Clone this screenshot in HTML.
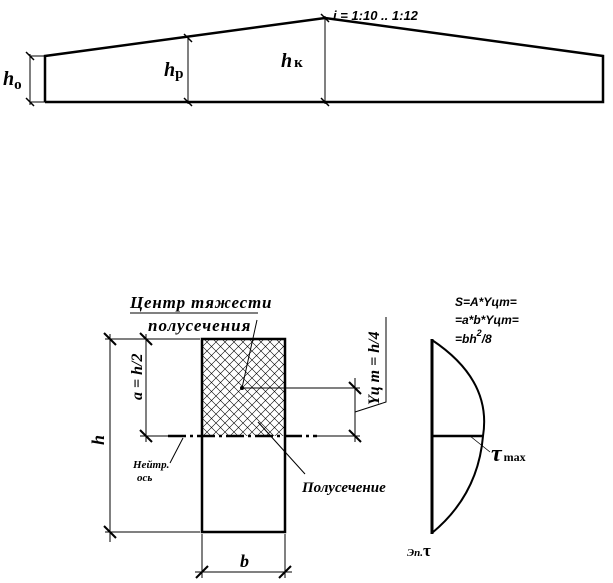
<!DOCTYPE html>
<html><head><meta charset="utf-8"><style>
html,body{margin:0;padding:0;background:#fff;width:613px;height:583px;overflow:hidden}
text{font-family:"Liberation Serif","DejaVu Serif",serif;font-style:italic;font-weight:bold;fill:#000}
</style></head><body>
<svg width="613" height="583" viewBox="0 0 613 583" xmlns="http://www.w3.org/2000/svg">
<defs>
<pattern id="hx" width="9" height="9" patternUnits="userSpaceOnUse">
<path d="M0 0L9 9M9 0L0 9" stroke="#000" stroke-width="0.6"/>
</pattern>
</defs>
<polyline points="45,102 45,56 325,18 603,56 603,102 45,102" fill="none" stroke="#000" stroke-width="2.5"/>
<g stroke="#000" stroke-width="1">
<line x1="30" y1="56" x2="45" y2="56"/><line x1="30" y1="102" x2="45" y2="102"/>
<line x1="30" y1="54" x2="30" y2="105"/>
<line x1="188" y1="38" x2="188" y2="104"/>
<line x1="325" y1="16" x2="325" y2="104"/>
</g>
<g stroke="#000" stroke-width="1.5">
<line x1="26" y1="52" x2="34" y2="60"/><line x1="26" y1="98" x2="34" y2="106"/>
<line x1="184" y1="34" x2="192" y2="42"/><line x1="184" y1="98" x2="192" y2="106"/>
<line x1="321" y1="14" x2="329" y2="22"/><line x1="321" y1="98" x2="329" y2="106"/>
</g>
<text x="3" y="85" font-size="20">h<tspan font-size="15" font-style="normal" dy="4">о</tspan></text>
<text x="164" y="76" font-size="20">h<tspan font-size="15" font-style="normal" dy="2">р</tspan></text>
<text x="281" y="67" font-size="20">h<tspan font-size="15" font-style="normal" dx="2" dy="0">к</tspan></text>
<text x="333" y="20" font-size="13" style="font-family:'Liberation Sans',sans-serif">i = 1:10 .. 1:12</text>

<rect x="202" y="339" width="83" height="97" fill="url(#hx)"/>
<rect x="202" y="339" width="83" height="193" fill="none" stroke="#000" stroke-width="2.5"/>
<g stroke="#000" stroke-width="1">
<line x1="105" y1="339" x2="200" y2="339"/>
<line x1="105" y1="532" x2="200" y2="532"/>
<line x1="110" y1="334" x2="110" y2="542"/>
<line x1="146" y1="334" x2="146" y2="442"/>
<line x1="140" y1="436" x2="168" y2="436"/>
<line x1="242" y1="388" x2="360" y2="388"/>
<line x1="355" y1="378" x2="355" y2="442"/>
<line x1="317" y1="436" x2="360" y2="436"/>
<polyline points="355,412 386,402 386,317" fill="none"/>
<line x1="130" y1="313" x2="258" y2="313"/>
<line x1="257" y1="320" x2="242" y2="388"/>
<line x1="258" y1="422" x2="305" y2="474"/>
<line x1="183" y1="438" x2="170" y2="463"/>
<line x1="202" y1="534" x2="202" y2="578"/>
<line x1="285" y1="534" x2="285" y2="578"/>
<line x1="195" y1="572" x2="292" y2="572"/>
</g>
<g stroke="#000" stroke-width="2">
<line x1="104" y1="333" x2="116" y2="345"/><line x1="104" y1="526" x2="116" y2="538"/>
<line x1="140" y1="333" x2="152" y2="345"/><line x1="140" y1="430" x2="152" y2="442"/>
<line x1="349" y1="382" x2="361" y2="394"/><line x1="349" y1="430" x2="361" y2="442"/>
<line x1="196" y1="578" x2="208" y2="566"/><line x1="279" y1="578" x2="291" y2="566"/>
</g>
<line x1="168" y1="436" x2="317" y2="436" stroke="#000" stroke-width="2.5" stroke-dasharray="18,4,3,4"/>
<circle cx="242" cy="388" r="2" fill="#000"/>
<text x="130" y="308" font-size="17" letter-spacing="0.8">Центр тяжести</text>
<text x="148" y="331" font-size="17" letter-spacing="1">полусечения</text>
<text x="302" y="492" font-size="15">Полусечение</text>
<text x="133" y="468" font-size="11">Нейтр.</text>
<text x="137" y="481" font-size="11">ось</text>
<text x="240" y="567" font-size="18">b</text>
<text transform="translate(104,445) rotate(-90)" font-size="18">h</text>
<text transform="translate(142,400) rotate(-90)" font-size="16">a = h/2</text>
<text transform="translate(379,405) rotate(-90)" font-size="16">Yц m  = h/4</text>

<path d="M432,340 Q492,380 483,436 Q478,495 432,533" fill="none" stroke="#000" stroke-width="2"/>
<line x1="432" y1="339" x2="432" y2="534" stroke="#000" stroke-width="3"/>
<line x1="432" y1="436" x2="483" y2="436" stroke="#000" stroke-width="2.5"/>
<line x1="470" y1="436" x2="490" y2="452" stroke="#000" stroke-width="0.8"/>
<text x="491" y="461" font-size="24" font-style="normal">τ<tspan font-size="12" font-style="normal" dx="2">max</tspan></text>
<text x="407" y="556" font-size="11">Эп.<tspan font-size="17" font-style="normal">τ</tspan></text>
<text x="455" y="306" font-size="12" style="font-family:'Liberation Sans',sans-serif">S=A*Yцm=</text>
<text x="455" y="324" font-size="12" style="font-family:'Liberation Sans',sans-serif">=a*b*Yцm=</text>
<text x="455" y="343" font-size="12" style="font-family:'Liberation Sans',sans-serif">=bh<tspan font-size="9" dy="-7">2</tspan><tspan dy="7">/8</tspan></text>
</svg>
</body></html>
